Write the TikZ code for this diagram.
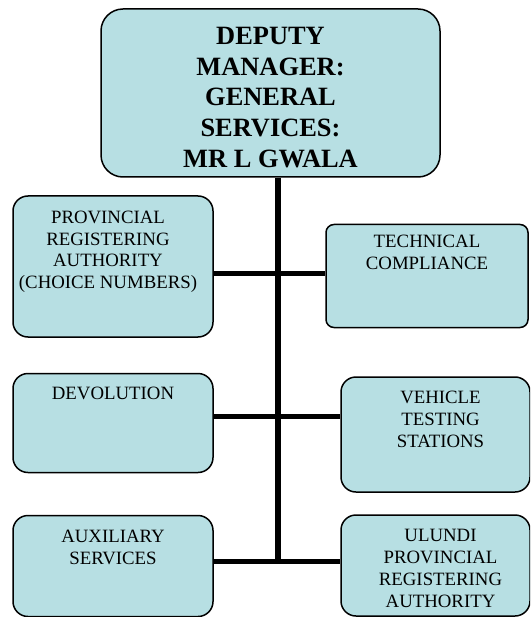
\documentclass[tikz,border=0pt]{standalone}
\usepackage{fontspec}
\setmainfont{Liberation Serif}
\usetikzlibrary{positioning}
\definecolor{boxfill}{HTML}{B7DFE3}

\begin{document}
\begin{tikzpicture}[x=1pt, y=-1pt,
        unit/.style={draw, fill=boxfill, line width=1.5pt, rounded corners=15pt, inner sep=0pt},
        headtext/.style={align=center, inner sep=0pt,
            font=\fontsize{26.4}{30.8}\selectfont\bfseries},
        unittext/.style={anchor=north, align=center, inner sep=0pt,
            font=\fontsize{18.8}{21.8}\selectfont},
        link/.style={line width=5pt},
        trunk/.style={line width=6pt}
        ]
        \useasboundingbox (0,0) rectangle (530,617);
        \clip (0,0) rectangle (530,617);

        % junctions on the trunk
        \coordinate (j1) at (277.5,273.5);
        \coordinate (j2) at (277.5,416.7);
        \coordinate (j3) at (277.5,561);

        \node[unit, rounded corners=22pt, minimum width=339pt, minimum height=168pt] (gm) at (270.5,93) {};
        \node[headtext] (gmtext) at ([yshift=-4.5pt]gm.center)
            {DEPUTY\\MANAGER:\\GENERAL\\SERVICES:\\MR L GWALA};

        % left column
        \node[unit, minimum width=200pt, minimum height=141pt] (pra) at (113,266.5) {};
        \node[unittext] (pratext) at ([xshift=-5pt, yshift=-15.5pt]pra.north)
            {PROVINCIAL\\REGISTERING\\AUTHORITY\\(CHOICE NUMBERS)};
        \node[unit, minimum width=200pt, minimum height=99pt] (dev) at (113,423) {};
        \node[unittext] (devtext) at ([yshift=-14.5pt]dev.north) {DEVOLUTION};
        \node[unit, minimum width=200pt, minimum height=101pt] (aux) at (113,566) {};
        \node[unittext] (auxtext) at ([yshift=-15pt]aux.north) {AUXILIARY\\SERVICES};

        % right column
        \node[unit, rounded corners=8pt, minimum width=202pt, minimum height=103pt] (tech) at (427,276) {};
        \node[unittext] (techtext) at ([yshift=-11pt]tech.north) {TECHNICAL\\COMPLIANCE};
        \node[unit, minimum width=189pt, minimum height=115pt] (veh) at (435.5,434.5) {};
        \node[unittext] (vehtext) at ([xshift=5pt, yshift=-14.5pt]veh.north) {VEHICLE\\TESTING\\STATIONS};
        \node[unit, minimum width=189pt, minimum height=101pt] (uln) at (435.5,565.5) {};
        \node[unittext] (ulntext) at ([xshift=5pt, yshift=-15pt]uln.north)
            {ULUNDI\\PROVINCIAL\\REGISTERING\\AUTHORITY};

        \draw[trunk] (gm.south -| j1) -- (j3);
        \draw[link] (pra.east |- j1) -- (tech.west |- j1);
        \draw[link] (dev.east |- j2) -- (veh.west |- j2);
        \draw[link] (aux.east |- j3) -- (uln.west |- j3);
    \end{tikzpicture}
\end{document}
